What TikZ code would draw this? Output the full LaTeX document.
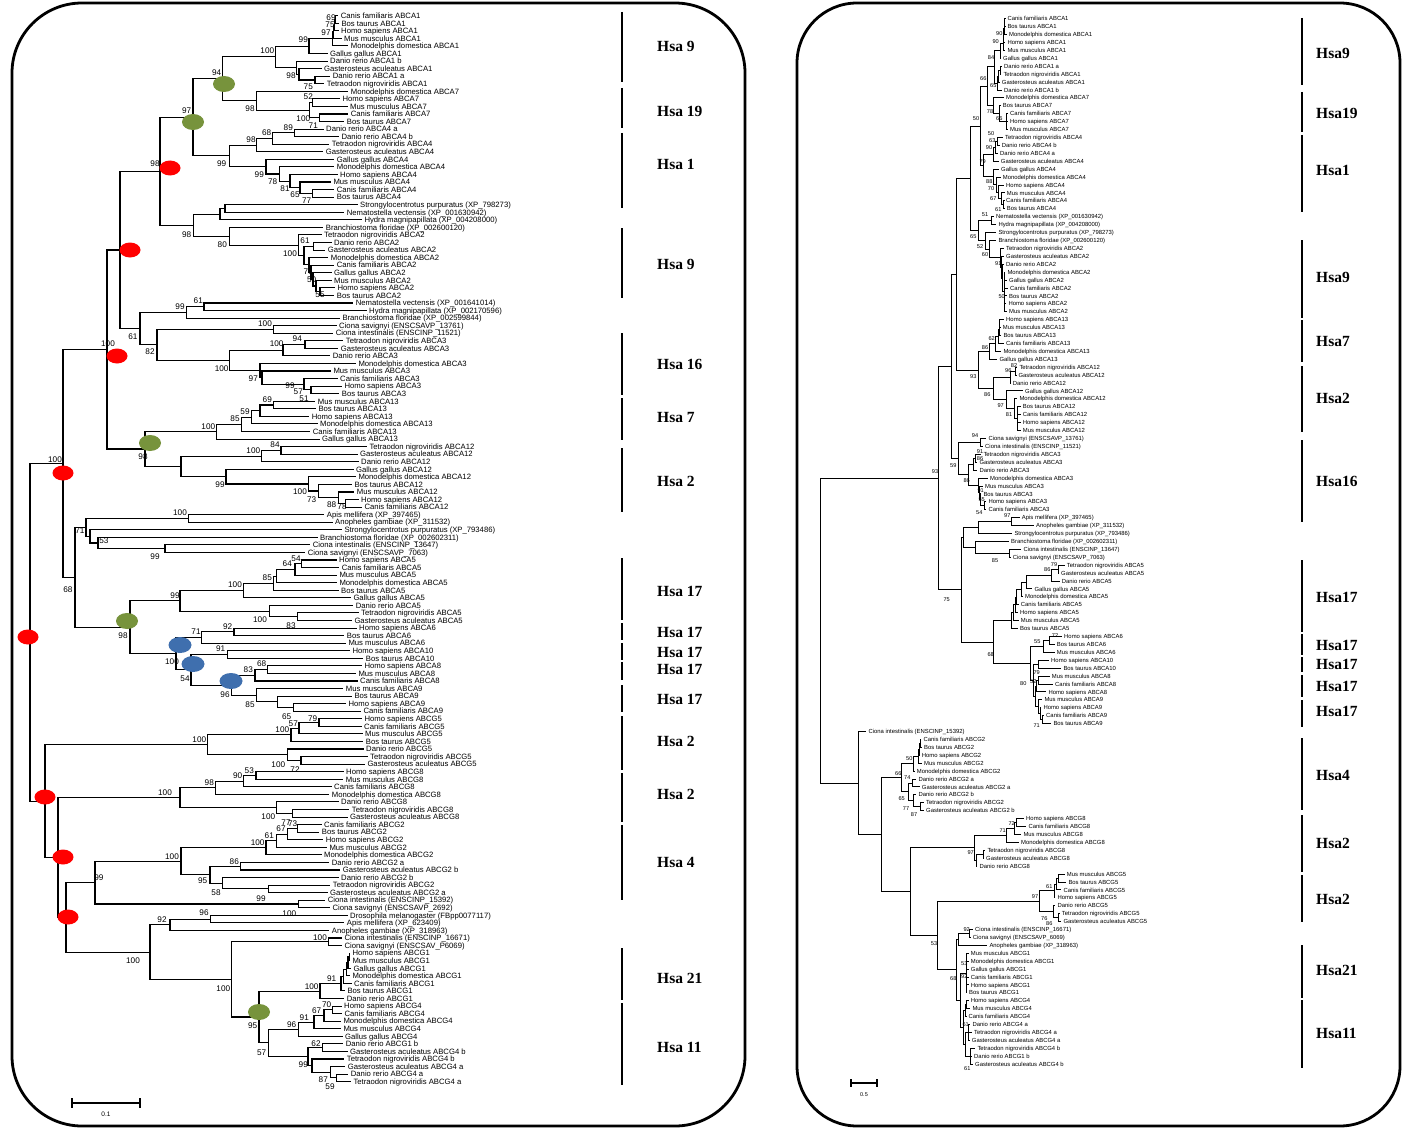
\documentclass[tikz,border=0pt]{standalone}
\usepackage{fontspec}
\setmainfont{Liberation Sans}
\newfontfamily\hsafont{Liberation Serif}
\usetikzlibrary{calc}
\newcommand\setY[2]{\expandafter\xdef\csname ny@#1\endcsname{#2}}
\newcommand\getY[1]{\csname ny@#1\endcsname}
\newcommand\lf[3]{%
  \pgfmathsetmacro\yy{15.7+7.56*(#1-1)}%
  \setY{L#1}{\yy}%
  \coordinate (L#1) at ({#2-2.5},\yy);
  \node[lbl] (tL#1) at (#2,\yy) {#3};}
\newcommand\rf[3]{%
  \pgfmathsetmacro\yy{18.7+7.92*(#1-1)}%
  \setY{R#1}{\yy}%
  \coordinate (R#1) at ({#2-2},\yy);
  \node[rlbl] (tR#1) at (#2,\yy) {#3};}
\newcommand\mn[5]{%
  \pgfmathsetmacro\yy{(\getY{#3}+\getY{#4})/2}%
  \setY{#1}{\yy}%
  \coordinate (#1) at (#2,\yy);
  \foreach \cc in {#5}{\draw[br] (#1) |- (\cc);}}
\newcommand\bn[4]{\mn{#1}{#2}{#3}{#4}{#3,#4}}
\newcounter{bsn}
\newcommand\bs[3]{\stepcounter{bsn}\node[bsl] (bs\arabic{bsn}) at (#1,#2) {#3};}
\newcounter{hn}
\newcommand\hsa[6]{\stepcounter{hn}\draw[hbar] (#1,#2) -- (#1,#3); \node[hsa] (hs\arabic{hn}) at (#4,#5) {#6};}
\definecolor{ovred}{HTML}{FF0000}
\definecolor{ovgreen}{HTML}{77933C}
\definecolor{ovblue}{HTML}{3F6FAE}
\begin{document}
\begin{tikzpicture}[x=1pt,y=-1pt,
  frame/.style={line width=2.8pt, line join=round},
  hbar/.style={line width=2.6pt},
  hsa/.style={font=\hsafont\bfseries\fontsize{15.5}{17}\selectfont, anchor=west, inner sep=0pt},
  scl/.style={line width=2pt}]
\useasboundingbox (0,0) rectangle (1403,1129);
\fill[white] (0,0) rectangle (1403,1129);
\draw[frame, rounded corners=70] (12,3) rectangle (745,1126);
\draw[frame, rounded corners=60] (797,3) rectangle (1400,1126);

% ================= LEFT TREE =================
\begin{scope}[br/.style={line width=1.1pt},
  lbl/.style={font=\fontsize{7.7}{8}\selectfont, anchor=west, inner sep=0pt, text height=5.5pt, text depth=0pt},
  bsl/.style={font=\fontsize{8.2}{9}\selectfont, inner sep=0pt}]
\lf{1}{340.7}{Canis familiaris ABCA1}
\lf{2}{341.3}{Bos taurus ABCA1}
\lf{3}{341}{Homo sapiens ABCA1}
\lf{4}{344}{Mus musculus ABCA1}
\lf{5}{350.7}{Monodelphis domestica ABCA1}
\lf{6}{330}{Gallus gallus ABCA1}
\lf{7}{330}{Danio rerio ABCA1 b}
\lf{8}{324}{Gasterosteus aculeatus ABCA1}
\lf{9}{332.7}{Danio rerio ABCA1 a}
\lf{10}{326.7}{Tetraodon nigroviridis ABCA1}
\lf{11}{350.7}{Monodelphis domestica ABCA7}
\lf{12}{342.3}{Homo sapiens ABCA7}
\lf{13}{350}{Mus musculus ABCA7}
\lf{14}{350.7}{Canis familiaris ABCA7}
\lf{15}{346.7}{Bos taurus ABCA7}
\lf{16}{326}{Danio rerio ABCA4 a}
\lf{17}{341.3}{Danio rerio ABCA4 b}
\lf{18}{331.7}{Tetraodon nigroviridis ABCA4}
\lf{19}{325.7}{Gasterosteus aculeatus ABCA4}
\lf{20}{336.7}{Gallus gallus ABCA4}
\lf{21}{336.7}{Monodelphis domestica ABCA4}
\lf{22}{340}{Homo sapiens ABCA4}
\lf{23}{333.3}{Mus musculus ABCA4}
\lf{24}{336.7}{Canis familiaris ABCA4}
\lf{25}{336.7}{Bos taurus ABCA4}
\lf{26}{360}{Strongylocentrotus purpuratus (XP\_798273)}
\lf{27}{346.7}{Nematostella vectensis (XP\_001630942)}
\lf{28}{364.3}{Hydra magnipapillata (XP\_004208000)}
\lf{29}{325.7}{Branchiostoma floridae (XP\_002600120)}
\lf{30}{324}{Tetraodon nigroviridis ABCA2}
\lf{31}{334}{Danio rerio ABCA2}
\lf{32}{327.7}{Gasterosteus aculeatus ABCA2}
\lf{33}{330.7}{Monodelphis domestica ABCA2}
\lf{34}{336.7}{Canis familiaris ABCA2}
\lf{35}{334}{Gallus gallus ABCA2}
\lf{36}{334}{Mus musculus ABCA2}
\lf{37}{337.3}{Homo sapiens ABCA2}
\lf{38}{336.7}{Bos taurus ABCA2}
\lf{39}{355.7}{Nematostella vectensis (XP\_001641014)}
\lf{40}{369}{Hydra magnipapillata (XP\_002170596)}
\lf{41}{342.3}{Branchiostoma floridae (XP\_002599844)}
\lf{42}{339}{Ciona savignyi (ENSCSAVP\_13761)}
\lf{43}{335.7}{Ciona intestinalis (ENSCINP\_11521)}
\lf{44}{345.7}{Tetraodon nigroviridis ABCA3}
\lf{45}{340.7}{Gasterosteus aculeatus ABCA3}
\lf{46}{332.7}{Danio rerio ABCA3}
\lf{47}{358.3}{Monodelphis domestica ABCA3}
\lf{48}{333.3}{Mus musculus ABCA3}
\lf{49}{340}{Canis familiaris ABCA3}
\lf{50}{344.3}{Homo sapiens ABCA3}
\lf{51}{341.7}{Bos taurus ABCA3}
\lf{52}{317.7}{Mus musculus ABCA13}
\lf{53}{318.3}{Bos taurus ABCA13}
\lf{54}{311.7}{Homo sapiens ABCA13}
\lf{55}{320}{Monodelphis domestica ABCA13}
\lf{56}{312.7}{Canis familiaris ABCA13}
\lf{57}{322}{Gallus gallus ABCA13}
\lf{58}{369.3}{Tetraodon nigroviridis ABCA12}
\lf{59}{360}{Gasterosteus aculeatus ABCA12}
\lf{60}{361}{Danio rerio ABCA12}
\lf{61}{356}{Gallus gallus ABCA12}
\lf{62}{358.3}{Monodelphis domestica ABCA12}
\lf{63}{354.3}{Bos taurus ABCA12}
\lf{64}{356.7}{Mus musculus ABCA12}
\lf{65}{361}{Homo sapiens ABCA12}
\lf{66}{364.3}{Canis familiaris ABCA12}
\lf{67}{326.7}{Apis mellifera (XP\_397465)}
\lf{68}{335}{Anopheles gambiae (XP\_311532)}
\lf{69}{344.3}{Strongylocentrotus purpuratus (XP\_793486)}
\lf{70}{320}{Branchiostoma floridae (XP\_002602311)}
\lf{71}{312.7}{Ciona intestinalis (ENSCINP\_13647)}
\lf{72}{307.7}{Ciona savignyi (ENSCSAVP\_7063)}
\lf{73}{339}{Homo sapiens ABCA5}
\lf{74}{341.7}{Canis familiaris ABCA5}
\lf{75}{339.3}{Mus musculus ABCA5}
\lf{76}{339.3}{Monodelphis domestica ABCA5}
\lf{77}{341}{Bos taurus ABCA5}
\lf{78}{353.3}{Gallus gallus ABCA5}
\lf{79}{355.7}{Danio rerio ABCA5}
\lf{80}{361}{Tetraodon nigroviridis ABCA5}
\lf{81}{354.3}{Gasterosteus aculeatus ABCA5}
\lf{82}{359}{Homo sapiens ABCA6}
\lf{83}{346.7}{Bos taurus ABCA6}
\lf{84}{348.3}{Mus musculus ABCA6}
\lf{85}{352.3}{Homo sapiens ABCA10}
\lf{86}{365.7}{Bos taurus ABCA10}
\lf{87}{364.3}{Homo sapiens ABCA8}
\lf{88}{358.3}{Mus musculus ABCA8}
\lf{89}{360}{Canis familiaris ABCA8}
\lf{90}{345.7}{Mus musculus ABCA9}
\lf{91}{354.3}{Bos taurus ABCA9}
\lf{92}{348.3}{Homo sapiens ABCA9}
\lf{93}{363.3}{Canis familiaris ABCA9}
\lf{94}{364.3}{Homo sapiens ABCG5}
\lf{95}{364}{Canis familiaris ABCG5}
\lf{96}{365}{Mus musculus ABCG5}
\lf{97}{365.7}{Bos taurus ABCG5}
\lf{98}{366}{Danio rerio ABCG5}
\lf{99}{370}{Tetraodon nigroviridis ABCG5}
\lf{100}{367.3}{Gasterosteus aculeatus ABCG5}
\lf{101}{346}{Homo sapiens ABCG8}
\lf{102}{345.7}{Mus musculus ABCG8}
\lf{103}{334}{Canis familiaris ABCG8}
\lf{104}{331.7}{Monodelphis domestica ABCG8}
\lf{105}{341}{Danio rerio ABCG8}
\lf{106}{351.7}{Tetraodon nigroviridis ABCG8}
\lf{107}{350}{Gasterosteus aculeatus ABCG8}
\lf{108}{324}{Canis familiaris ABCG2}
\lf{109}{321.7}{Bos taurus ABCG2}
\lf{110}{325.7}{Homo sapiens ABCG2}
\lf{111}{329.3}{Mus musculus ABCG2}
\lf{112}{324}{Monodelphis domestica ABCG2}
\lf{113}{331.7}{Danio rerio ABCG2 a}
\lf{114}{342.7}{Gasterosteus aculeatus ABCG2 b}
\lf{115}{341}{Danio rerio ABCG2 b}
\lf{116}{332.7}{Tetraodon nigroviridis ABCG2}
\lf{117}{330}{Gasterosteus aculeatus ABCG2 a}
\lf{118}{327.7}{Ciona intestinalis (ENSCINP\_15392)}
\lf{119}{332.3}{Ciona savignyi (ENSCSAVP\_2692)}
\lf{120}{350}{Drosophila melanogaster (FBpp0077117)}
\lf{121}{346.7}{Apis mellifera (XP\_623409)}
\lf{122}{331.7}{Anopheles gambiae (XP\_318963)}
\lf{123}{344.3}{Ciona intestinalis (ENSCINP\_16671)}
\lf{124}{344.3}{Ciona savignyi (ENSCSAV\_P6069)}
\lf{125}{352.3}{Homo sapiens ABCG1}
\lf{126}{352.3}{Mus musculus ABCG1}
\lf{127}{353.3}{Gallus gallus ABCG1}
\lf{128}{352.3}{Monodelphis domestica ABCG1}
\lf{129}{354}{Canis familiaris ABCG1}
\lf{130}{347.3}{Bos taurus ABCG1}
\lf{131}{346.7}{Danio rerio ABCG1}
\lf{132}{344}{Homo sapiens ABCG4}
\lf{133}{344.3}{Canis familiaris ABCG4}
\lf{134}{343.3}{Monodelphis domestica ABCG4}
\lf{135}{343.3}{Mus musculus ABCG4}
\lf{136}{345}{Gallus gallus ABCG4}
\lf{137}{345.7}{Danio rerio ABCG1 b}
\lf{138}{350}{Gasterosteus aculeatus ABCG4 b}
\lf{139}{346.7}{Tetraodon nigroviridis ABCG4 b}
\lf{140}{347.7}{Gasterosteus aculeatus ABCG4 a}
\lf{141}{350.7}{Danio rerio ABCG4 a}
\lf{142}{353.3}{Tetraodon nigroviridis ABCG4 a}
% internal nodes
\bn{a1}{335.5}{L1}{L2}
\bn{a2}{334.5}{a1}{L3}
\bn{a3}{333.5}{a2}{L4}
\bn{a4}{332.7}{a3}{L5}
\bn{a5}{309}{a4}{L6}
\bn{a6}{315}{L9}{L10}
\bn{a7}{299}{L8}{a6}
\bn{a8}{296.7}{L7}{a7}
\bn{a9}{275.7}{a5}{a8}
\bn{b1}{312.3}{L12}{L13}
\bn{b2}{319.3}{L14}{L15}
\bn{b3}{309.3}{b1}{b2}
\bn{b4}{256.3}{L11}{b3}
\bn{c94}{222.7}{a9}{b4}
\bn{d1}{294.3}{L16}{L17}
\bn{d2}{272.7}{d1}{L18}
\bn{d3}{256.7}{d2}{L19}
\bn{e1}{312.7}{L24}{L25}
\bn{e2}{300}{L23}{e1}
\bn{e3}{290}{L22}{e2}
\bn{e4}{279.3}{L21}{e3}
\bn{e5}{266}{L20}{e4}
\bn{d4}{229.3}{d3}{e5}
\bn{c97}{193}{c94}{d4}
\bn{f1}{225}{L26}{L27}
\bn{f2}{220}{f1}{L28}
\bn{g1}{313.3}{L31}{L32}
\bn{h1}{320}{L37}{L38}
\bn{h2}{316}{L36}{h1}
\bn{h3}{313}{L35}{h2}
\bn{h4}{311}{L34}{h3}
\bn{h5}{309}{L33}{h4}
\bn{g2}{304}{g1}{h5}
\bn{g3}{298.3}{L30}{g2}
\bn{f4}{229.3}{L29}{g3}
\bn{f3}{193.3}{f2}{f4}
\bn{c98}{160}{c97}{f3}
\bn{i1}{204}{L39}{L40}
\bn{i2}{186.7}{i1}{L41}
\bn{i3}{273.3}{L42}{L43}
\bn{j1}{305}{L44}{L45}
\bn{j2}{283}{j1}{L46}
\bn{k1}{311}{L50}{L51}
\bn{k2}{304}{L49}{k1}
\bn{k3}{262}{L48}{k2}
\bn{k4}{260}{L47}{k3}
\bn{j3}{229.3}{j2}{k4}
\bn{l1}{157}{i3}{j3}
\bn{l2}{140}{i2}{l1}
\bn{m1}{120}{c98}{l2}
\bn{o1}{273.3}{L52}{L53}
\bn{o2}{260}{o1}{L54}
\bn{o3}{251.7}{o2}{L55}
\bn{o4}{241.7}{o3}{L56}
\bn{o5}{216.7}{o4}{L57}
\bn{p1}{281}{L58}{L59}
\bn{p2}{261.7}{p1}{L60}
\bn{q1}{345.7}{L65}{L66}
\bn{q2}{338.3}{L64}{q1}
\bn{q3}{318.3}{L63}{q2}
\bn{q4}{308.3}{L62}{q3}
\bn{q5}{226}{L61}{q4}
\bn{p3}{181}{p2}{q5}
\bn{r1}{145}{o5}{p3}
\bn{m2}{107}{m1}{r1}
\bn{s1}{188.3}{L67}{L68}
\bn{t1}{165}{L71}{L72}
\bn{t2}{98}{L70}{t1}
\bn{t3}{90}{L69}{t2}
\bn{t4}{86}{s1}{t3}
\bn{v1}{301.7}{L73}{L74}
\bn{v2}{295}{v1}{L75}
\bn{v3}{276.7}{v2}{L76}
\bn{v4}{273.3}{v3}{L77}
\bn{v5}{243.3}{v4}{L78}
\bn{v6}{297.3}{L80}{L81}
\bn{v7}{269.3}{L79}{v6}
\bn{v8}{180}{v5}{v7}
\bn{w1}{234}{L82}{L83}
\bn{w2}{201.7}{w1}{L84}
\bn{w3}{227.3}{L85}{L86}
\bn{w5}{267.7}{L87}{L88}
\bn{w6}{255}{w5}{L89}
\bn{x1}{293.3}{L92}{L93}
\bn{x2}{277.7}{L91}{x1}
\bn{x3}{256.7}{L90}{x2}
\bn{x4}{231.7}{w6}{x3}
\bn{y1}{191}{w3}{x4}
\bn{y2}{176}{w2}{y1}
\bn{z1}{130}{v8}{y2}
\bn{u1}{75}{t4}{z1}
\bn{N100}{63}{m2}{u1}
\bn{G1}{319}{L94}{L95}
\bn{G2}{299}{G1}{L96}
\bn{G3}{291}{G2}{L97}
\bn{G4}{301}{L99}{L100}
\bn{G5}{287.3}{L98}{G4}
\bn{G6}{207.7}{G3}{G5}
\bn{G7}{256}{L101}{L102}
\bn{G8}{243.3}{G7}{L103}
\bn{G9}{215.7}{G8}{L104}
\bn{G10}{292.7}{L106}{L107}
\bn{G11}{276.7}{L105}{G10}
\bn{G12}{180}{G9}{G11}
\bn{H3}{297.7}{L108}{L109}
\bn{H4}{287.3}{H3}{L110}
\bn{H5}{276.7}{H4}{L111}
\bn{H6}{266}{H5}{L112}
\bn{H7}{240.7}{L113}{L114}
\bn{H8}{268.3}{L116}{L117}
\bn{H9}{222.3}{L115}{H8}
\bn{H10}{210}{H7}{H9}
\bn{H11}{181}{H6}{H10}
\bn{H12}{298.3}{L118}{L119}
\bn{H13}{95}{H11}{H12}
\bn{H14}{210.7}{L120}{L121}
\bn{H15}{170}{H14}{L122}
\bn{I1}{328.3}{L123}{L124}
\bn{I3a}{349.3}{L125}{L126}
\bn{I3b}{348}{I3a}{L127}
\bn{I3c}{346.5}{I3b}{L128}
\bn{I3d}{343.5}{I3c}{L129}
\bn{I3e}{341}{I3d}{L130}
\bn{I3f}{320}{I3e}{L131}
\bn{I4a}{332.7}{L132}{L133}
\bn{I4b}{324}{I4a}{L134}
\bn{I4c}{314}{I4b}{L135}
\bn{I4d}{298.3}{I4c}{L136}
\bn{I5a}{322.7}{L137}{L138}
\bn{I5c}{336.7}{L141}{L142}
\bn{I5d}{330.7}{L140}{I5c}
\bn{I5e}{312}{L139}{I5d}
\bn{I5f}{308}{I5a}{I5e}
\bn{I6}{268.3}{I4d}{I5f}
\bn{I7}{259}{I3f}{I6}
\bn{I2}{231.7}{I1}{I7}
\bn{J1}{150}{H15}{I2}
\bn{H2}{66}{H13}{J1}
\bn{H1}{58}{G12}{H2}
\bn{Groot}{45}{G6}{H1}
\bn{Root}{30}{N100}{Groot}
% bootstrap values
\bs{331}{17.7}{69}\bs{330}{24.3}{75}\bs{326}{32.3}{97}\bs{303.3}{39.3}{99}
\bs{267.3}{50.7}{100}\bs{216.7}{72.7}{94}\bs{291}{76}{98}\bs{186.7}{111}{97}
\bs{308.3}{87}{75}\bs{308.3}{97}{52}\bs{250}{109}{98}\bs{303.3}{118.3}{100}
\bs{288.3}{127.7}{89}\bs{313.3}{125.7}{71}\bs{266.7}{132.3}{68}\bs{251}{139.3}{98}
\bs{221.7}{163.7}{99}\bs{259.3}{175}{99}\bs{272.7}{181.3}{78}\bs{285}{188.3}{81}
\bs{295}{195}{65}\bs{306.7}{201}{77}\bs{155}{164}{98}\bs{186.7}{234.3}{98}
\bs{222.3}{244.3}{80}\bs{305}{241}{61}\bs{290}{253.3}{100}\bs{308.3}{271.7}{71}
\bs{311.7}{279.3}{50}\bs{320}{294.3}{55}\bs{198.3}{300.7}{61}\bs{180}{307}{99}
\bs{265}{324}{100}\bs{297.3}{339}{94}\bs{276.7}{344}{100}\bs{133}{337}{61}
\bs{150}{352}{82}\bs{108}{344}{100}\bs{221.7}{369}{100}\bs{253.3}{379}{97}
\bs{290}{386}{99}\bs{298.3}{392}{57}\bs{304}{398.3}{51}\bs{267.3}{399.3}{69}
\bs{245}{411.7}{59}\bs{235}{418.3}{85}\bs{208.3}{426.7}{100}\bs{275}{444.3}{84}
\bs{253.3}{451}{100}\bs{143}{457}{98}\bs{55}{460}{100}\bs{220}{485}{99}
\bs{300}{491.7}{100}\bs{311.7}{499.3}{73}\bs{331.7}{504.5}{88}\bs{342}{507}{78}
\bs{180}{513}{100}\bs{80}{531}{71}\bs{104}{541}{53}\bs{155}{557}{99}
\bs{296}{558.3}{54}\bs{287.3}{563.3}{64}\bs{267.3}{577.7}{85}\bs{235}{585}{100}
\bs{68}{590}{68}\bs{175}{596}{99}\bs{260}{619.3}{100}\bs{227.7}{626.7}{92}
\bs{291}{626}{83}\bs{196}{631.7}{71}\bs{123}{636}{98}\bs{220.7}{649}{91}
\bs{261.7}{664}{68}\bs{172}{662}{100}\bs{248.3}{670}{83}\bs{185}{678.3}{54}
\bs{225}{694.3}{96}\bs{250}{704.3}{85}\bs{286.7}{716.7}{65}\bs{312.7}{718.3}{79}
\bs{293.3}{723.3}{57}\bs{282.3}{730}{100}\bs{199.3}{740}{100}\bs{278.3}{764.3}{100}
\bs{295}{770}{72}\bs{249.3}{770.7}{53}\bs{237.7}{776}{90}\bs{209.3}{782.7}{98}
\bs{165}{793}{100}\bs{268.3}{816.7}{100}\bs{286}{822.3}{77}\bs{292.7}{823.3}{73}
\bs{281}{829}{67}\bs{269.3}{836}{61}\bs{257.7}{842.3}{100}\bs{172}{857}{100}
\bs{234.3}{861.7}{86}\bs{99}{878}{99}\bs{202.7}{881}{95}\bs{216}{892.7}{58}
\bs{261}{898.3}{99}\bs{289.3}{913.3}{100}\bs{204}{912.3}{96}\bs{162}{920}{92}
\bs{320}{937.3}{100}\bs{133}{961}{100}\bs{223.3}{988.3}{100}\bs{331.7}{979}{91}
\bs{311.7}{986.7}{100}\bs{316.7}{1010.7}{67}\bs{326.7}{1005}{70}\bs{304.3}{1017.3}{91}
\bs{252.7}{1025.7}{95}\bs{291.7}{1025}{96}\bs{316}{1043.3}{62}\bs{261.7}{1052.7}{57}
\bs{303.3}{1065}{99}\bs{323.3}{1080}{87}\bs{330}{1086.7}{59}
\end{scope}
% ovals on the left tree
\foreach \px/\py in {170/168,130/250,117/356,63/473,28/637,45/797,63/857,68/917}
  \fill[ovred] (\px,\py) ellipse [x radius=10.5, y radius=7.5];
\foreach \px/\py in {224/84,193/122,150/443,127/621,259/1012}
  \fill[ovgreen] (\px,\py) ellipse [x radius=11, y radius=8];
\foreach \px/\py in {180/645,193/664,231/681}
  \fill[ovblue] (\px,\py) ellipse [x radius=11.5, y radius=8];
% left scale bar
\draw[scl] (72,1098) -- (72,1108) (72,1103) -- (140,1103) (140,1098) -- (140,1108);
\node[font=\fontsize{6.5}{7}\selectfont, inner sep=0pt] (sc1) at (106,1114) {0.1};
% left Hsa bars
\hsa{622}{12}{82}{657}{46}{Hsa 9}
\hsa{622}{88}{128}{657}{111}{Hsa 19}
\hsa{622}{133}{208}{657}{164}{Hsa 1}
\hsa{622}{228}{298}{657}{264}{Hsa 9}
\hsa{622}{333}{395}{657}{364}{Hsa 16}
\hsa{622}{398}{440}{657}{417}{Hsa 7}
\hsa{622}{448}{512}{657}{481}{Hsa 2}
\hsa{622}{558}{620}{657}{591}{Hsa 17}
\hsa{622}{623}{640}{657}{632}{Hsa 17}
\hsa{622}{643}{660}{657}{652}{Hsa 17}
\hsa{622}{662}{680}{657}{669}{Hsa 17}
\hsa{622}{685}{712}{657}{699}{Hsa 17}
\hsa{622}{716}{770}{657}{741}{Hsa 2}
\hsa{622}{773}{822}{657}{794}{Hsa 2}
\hsa{622}{825}{900}{657}{862}{Hsa 4}
\hsa{622}{948}{1000}{657}{978}{Hsa 21}
\hsa{622}{1003}{1085}{657}{1047}{Hsa 11}

% ================= RIGHT TREE =================
\begin{scope}[br/.style={line width=0.9pt},
  rlbl/.style={font=\fontsize{5.9}{6}\selectfont, anchor=west, inner sep=0pt, text height=4.2pt, text depth=0pt},
  bsl/.style={font=\fontsize{5.6}{6}\selectfont, inner sep=0pt}]
\rf{1}{1007.3}{Canis familiaris ABCA1}
\rf{2}{1007.3}{Bos taurus ABCA1}
\rf{3}{1009}{Monodelphis domestica ABCA1}
\rf{4}{1007.3}{Homo sapiens ABCA1}
\rf{5}{1007.3}{Mus musculus ABCA1}
\rf{6}{1003}{Gallus gallus ABCA1}
\rf{7}{1004}{Danio rerio ABCA1 a}
\rf{8}{1003.3}{Tetraodon nigroviridis ABCA1}
\rf{9}{1001.7}{Gasterosteus aculeatus ABCA1}
\rf{10}{1004}{Danio rerio ABCA1 b}
\rf{11}{1006}{Monodelphis domestica ABCA7}
\rf{12}{1002.7}{Bos taurus ABCA7}
\rf{13}{1010}{Canis familiaris ABCA7}
\rf{14}{1010}{Homo sapiens ABCA7}
\rf{15}{1010}{Mus musculus ABCA7}
\rf{16}{1005}{Tetraodon nigroviridis ABCA4}
\rf{17}{1001.7}{Danio rerio ABCA4 b}
\rf{18}{1000}{Danio rerio ABCA4 a}
\rf{19}{1000.7}{Gasterosteus aculeatus ABCA4}
\rf{20}{1001}{Gallus gallus ABCA4}
\rf{21}{1002.7}{Monodelphis domestica ABCA4}
\rf{22}{1006}{Homo sapiens ABCA4}
\rf{23}{1006.7}{Mus musculus ABCA4}
\rf{24}{1006}{Canis familiaris ABCA4}
\rf{25}{1006.7}{Bos taurus ABCA4}
\rf{26}{996}{Nematostella vectensis (XP\_001630942)}
\rf{27}{998.3}{Hydra magnipapillata (XP\_004208000)}
\rf{28}{998.3}{Strongylocentrotus purpuratus (XP\_798273)}
\rf{29}{998.3}{Branchiostoma floridae (XP\_002600120)}
\rf{30}{1006}{Tetraodon nigroviridis ABCA2}
\rf{31}{1006}{Gasterosteus aculeatus ABCA2}
\rf{32}{1006}{Danio rerio ABCA2}
\rf{33}{1007.3}{Monodelphis domestica ABCA2}
\rf{34}{1009}{Gallus gallus ABCA2}
\rf{35}{1010}{Canis familiaris ABCA2}
\rf{36}{1009}{Bos taurus ABCA2}
\rf{37}{1008.3}{Homo sapiens ABCA2}
\rf{38}{1009}{Mus musculus ABCA2}
\rf{39}{1006}{Homo sapiens ABCA13}
\rf{40}{1002.7}{Mus musculus ABCA13}
\rf{41}{1003.3}{Bos taurus ABCA13}
\rf{42}{1006}{Canis familiaris ABCA13}
\rf{43}{1003.3}{Monodelphis domestica ABCA13}
\rf{44}{999.3}{Gallus gallus ABCA13}
\rf{45}{1019.3}{Tetraodon nigroviridis ABCA12}
\rf{46}{1018.3}{Gasterosteus aculeatus ABCA12}
\rf{47}{1012.7}{Danio rerio ABCA12}
\rf{48}{1025}{Gallus gallus ABCA12}
\rf{49}{1019.3}{Monodelphis domestica ABCA12}
\rf{50}{1022.7}{Bos taurus ABCA12}
\rf{51}{1022.7}{Canis familiaris ABCA12}
\rf{52}{1022.7}{Homo sapiens ABCA12}
\rf{53}{1022.7}{Mus musculus ABCA12}
\rf{54}{988.3}{Ciona savignyi (ENSCSAVP\_13761)}
\rf{55}{985}{Ciona intestinalis (ENSCINP\_11521)}
\rf{56}{983.3}{Tetraodon nigroviridis ABCA3}
\rf{57}{979.3}{Gasterosteus aculeatus ABCA3}
\rf{58}{979.3}{Danio rerio ABCA3}
\rf{59}{990}{Monodelphis domestica ABCA3}
\rf{60}{985}{Mus musculus ABCA3}
\rf{61}{983.3}{Bos taurus ABCA3}
\rf{62}{988.3}{Homo sapiens ABCA3}
\rf{63}{988.3}{Canis familiaris ABCA3}
\rf{64}{1021.7}{Apis mellifera (XP\_397465)}
\rf{65}{1036}{Anopheles gambiae (XP\_311532)}
\rf{66}{1014.3}{Strongylocentrotus purpuratus (XP\_793486)}
\rf{67}{1011}{Branchiostoma floridae (XP\_002602311)}
\rf{68}{1023.3}{Ciona intestinalis (ENSCINP\_13647)}
\rf{69}{1012.7}{Ciona savignyi (ENSCSAVP\_7063)}
\rf{70}{1066.7}{Tetraodon nigroviridis ABCA5}
\rf{71}{1061}{Gasterosteus aculeatus ABCA5}
\rf{72}{1061.7}{Danio rerio ABCA5}
\rf{73}{1034.3}{Gallus gallus ABCA5}
\rf{74}{1025}{Monodelphis domestica ABCA5}
\rf{75}{1020.7}{Canis familiaris ABCA5}
\rf{76}{1020}{Homo sapiens ABCA5}
\rf{77}{1020.7}{Mus musculus ABCA5}
\rf{78}{1020}{Bos taurus ABCA5}
\rf{79}{1064}{Homo sapiens ABCA6}
\rf{80}{1056.7}{Bos taurus ABCA6}
\rf{81}{1056.7}{Mus musculus ABCA6}
\rf{82}{1051}{Homo sapiens ABCA10}
\rf{83}{1063.3}{Bos taurus ABCA10}
\rf{84}{1051.7}{Mus musculus ABCA8}
\rf{85}{1055}{Canis familiaris ABCA8}
\rf{86}{1048.3}{Homo sapiens ABCA8}
\rf{87}{1044.3}{Mus musculus ABCA9}
\rf{88}{1043.3}{Homo sapiens ABCA9}
\rf{89}{1046}{Canis familiaris ABCA9}
\rf{90}{1053.3}{Bos taurus ABCA9}
\rf{91}{868.3}{Ciona intestinalis (ENSCINP\_15392)}
\rf{92}{923.3}{Canis familiaris ABCG2}
\rf{93}{924}{Bos taurus ABCG2}
\rf{94}{921.7}{Homo sapiens ABCG2}
\rf{95}{924}{Mus musculus ABCG2}
\rf{96}{916.7}{Monodelphis domestica ABCG2}
\rf{97}{918.3}{Danio rerio ABCG2 a}
\rf{98}{921.7}{Gasterosteus aculeatus ABCG2 a}
\rf{99}{918.3}{Danio rerio ABCG2 b}
\rf{100}{926}{Tetraodon nigroviridis ABCG2}
\rf{101}{926}{Gasterosteus aculeatus ABCG2 b}
\rf{102}{1026}{Homo sapiens ABCG8}
\rf{103}{1028.3}{Canis familiaris ABCG8}
\rf{104}{1023.3}{Mus musculus ABCG8}
\rf{105}{1021}{Monodelphis domestica ABCG8}
\rf{106}{987.3}{Tetraodon nigroviridis ABCG8}
\rf{107}{986}{Gasterosteus aculeatus ABCG8}
\rf{108}{979.3}{Danio rerio ABCG8}
\rf{109}{1066.7}{Mus musculus ABCG5}
\rf{110}{1068.3}{Bos taurus ABCG5}
\rf{111}{1063.3}{Canis familiaris ABCG5}
\rf{112}{1057.3}{Homo sapiens ABCG5}
\rf{113}{1057.3}{Danio rerio ABCG5}
\rf{114}{1061.7}{Tetraodon nigroviridis ABCG5}
\rf{115}{1063.3}{Gasterosteus aculeatus ABCG5}
\rf{116}{975}{Ciona intestinalis (ENSCINP\_16671)}
\rf{117}{972.7}{Ciona savignyi (ENSCSAVP\_6069)}
\rf{118}{989.3}{Anopheles gambiae (XP\_318963)}
\rf{119}{970.7}{Mus musculus ABCG1}
\rf{120}{970.7}{Monodelphis domestica ABCG1}
\rf{121}{970.7}{Gallus gallus ABCG1}
\rf{122}{970.7}{Canis familiaris ABCG1}
\rf{123}{970.7}{Homo sapiens ABCG1}
\rf{124}{969}{Bos taurus ABCG1}
\rf{125}{970.7}{Homo sapiens ABCG4}
\rf{126}{972.3}{Mus musculus ABCG4}
\rf{127}{968.3}{Canis familiaris ABCG4}
\rf{128}{972.3}{Danio rerio ABCG4 a}
\rf{129}{974}{Tetraodon nigroviridis ABCG4 a}
\rf{130}{971.7}{Gasterosteus aculeatus ABCG4 a}
\rf{131}{977.3}{Tetraodon nigroviridis ABCG4 b}
\rf{132}{974}{Danio rerio ABCG1 b}
\rf{133}{975}{Gasterosteus aculeatus ABCG4 b}
% internal nodes
\bn{RA1}{1004.5}{R1}{R2}
\bn{RA2}{1004}{RA1}{R3}
\bn{RA3}{1003.5}{RA2}{R4}
\bn{RA4}{1003}{RA3}{R5}
\bn{RA5}{1000}{RA4}{R6}
\bn{RB1}{1000}{R7}{R8}
\bn{RB2}{998.5}{RB1}{R9}
\bn{RB3}{997.5}{RB2}{R10}
\bn{RB4}{994}{RA5}{RB3}
\mn{RC1}{1006}{R13}{R15}{R13,R14,R15}
\bn{RC2}{999.5}{R12}{RC1}
\bn{RC3}{993.5}{R11}{RC2}
\bn{RC4}{987}{RB4}{RC3}
\bn{RD1}{997}{R16}{R17}
\bn{RD2}{995.5}{RD1}{R18}
\bn{RD3}{993.5}{RD2}{R19}
\bn{RE1}{1003.5}{R24}{R25}
\bn{RE2}{1001.5}{R23}{RE1}
\bn{RE3}{998.5}{R22}{RE2}
\bn{RE4}{996}{R21}{RE3}
\bn{RE5}{993}{R20}{RE4}
\bn{RD4}{983}{RD3}{RE5}
\bn{RC5}{980}{RC4}{RD4}
\bn{RF1}{991.7}{R26}{R27}
\mn{RG1}{1004}{R33}{R38}{R33,R34,R35,R36,R37,R38}
\bn{RG2}{1002}{R32}{RG1}
\bn{RG3}{1001}{R31}{RG2}
\bn{RG4}{1000}{R30}{RG3}
\bn{RF3}{989}{R29}{RG4}
\bn{RF2}{985}{R28}{RF3}
\bn{RF4}{978.3}{RF1}{RF2}
\bn{RH1}{970}{RC5}{RF4}
\bn{RI1}{999.8}{R39}{R40}
\bn{RI2}{999}{RI1}{R41}
\bn{RI3}{998}{RI2}{R42}
\bn{RI4}{995.5}{RI3}{R43}
\bn{RI5}{989.3}{RI4}{R44}
\bn{RK1}{1015.5}{R45}{R46}
\bn{RK2}{1010}{RK1}{R47}
\mn{RL2}{1017.5}{R50}{R53}{R50,R51,R52,R53}
\bn{RL3}{1014}{R49}{RL2}
\bn{RL4}{1006.7}{R48}{RL3}
\bn{RK3}{993}{RK2}{RL4}
\bn{RJ1}{978.3}{RI5}{RK3}
\bn{RM1}{956.7}{RH1}{RJ1}
\bn{RO1}{980}{R54}{R55}
\bn{RO2}{975.5}{R56}{R57}
\bn{RO3}{973.3}{RO2}{R58}
\bn{RP1}{984.5}{R62}{R63}
\bn{RP2}{980}{R61}{RP1}
\bn{RP3}{979.5}{R60}{RP2}
\bn{RP4}{978.5}{R59}{RP3}
\bn{RQ1}{968}{RO3}{RP4}
\bn{RQ2}{958.3}{RO1}{RQ1}
\bn{RN1}{951.7}{RM1}{RQ2}
\bn{RR1}{1011.7}{R64}{R65}
\bn{RR2}{978.3}{RR1}{R66}
\bn{RS1}{1009}{R68}{R69}
\bn{RS2}{975.7}{R67}{RS1}
\bn{RS3}{963.3}{RR2}{RS2}
\bn{RT1}{1058.3}{R70}{R71}
\bn{RT2}{1051.7}{RT1}{R72}
\bn{RT3}{1026.7}{RT2}{R73}
\bn{RT4}{1021.7}{RT3}{R74}
\bn{RT5}{1016.7}{RT4}{R75}
\bn{RT6}{1015}{RT5}{R76}
\bn{RT7}{1013.3}{RT6}{R77}
\bn{RT8}{1011.7}{RT7}{R78}
\bn{RU1}{1049}{R79}{R80}
\bn{RU2}{1043.3}{RU1}{R81}
\bn{RU3}{1038.3}{R82}{R83}
\bn{RU4}{1038.3}{R84}{R85}
\bn{RU5}{1036.7}{RU4}{R86}
\bn{RU6}{1042}{R89}{R90}
\bn{RU7}{1040}{R88}{RU6}
\bn{RU8}{1038}{R87}{RU7}
\bn{RU9}{1035}{RU5}{RU8}
\bn{RU10}{1033}{RU3}{RU9}
\bn{RU11}{1030}{RU2}{RU10}
\bn{RU12}{993.3}{RT8}{RU11}
\bn{RV1}{961.7}{RS3}{RU12}
\bn{RQ3}{938.3}{RN1}{RV1}
\bn{RX1}{920}{R92}{R93}
\bn{RX2}{919}{RX1}{R94}
\bn{RX3}{918}{RX2}{R95}
\bn{RX4}{913.3}{RX3}{R96}
\bn{RX5}{912}{R97}{R98}
\bn{RX6}{920}{R100}{R101}
\bn{RX7}{913}{R99}{RX6}
\bn{RX8}{908}{RX5}{RX7}
\bn{RX9}{901.7}{RX4}{RX8}
\bn{S1}{1016.7}{R102}{R103}
\bn{S2}{1014}{S1}{R104}
\bn{S3}{1006.7}{S2}{R105}
\bn{S4}{983}{R106}{R107}
\bn{S5}{976}{S4}{R108}
\bn{S6}{974}{S3}{S5}
\bn{S9}{1058}{R109}{R110}
\bn{S10}{1056}{S9}{R111}
\bn{S11}{1054}{S10}{R112}
\bn{S12}{1058}{R114}{R115}
\bn{S13}{1053}{R113}{S12}
\bn{S14}{1039.3}{S11}{S13}
\bn{T1}{969.5}{R116}{R117}
\bn{T2}{958.3}{T1}{R118}
\mn{T3}{966}{R119}{R124}{R119,R120,R121,R122,R123,R124}
\bn{T4a}{966.5}{R125}{R126}
\bn{T4b}{965.5}{T4a}{R127}
\mn{T4c}{968}{R128}{R130}{R128,R129,R130}
\mn{T4d}{970.7}{R131}{R133}{R131,R132,R133}
\bn{T4e}{965}{T4c}{T4d}
\bn{T4f}{963.5}{T4b}{T4e}
\bn{T5}{960}{T3}{T4f}
\bn{T6}{956.7}{T2}{T5}
\bn{S15}{937.3}{S14}{T6}
\bn{S7}{910}{S6}{S15}
\bn{RY1}{881.7}{RX9}{S7}
\bn{RW1}{858.3}{R91}{RY1}
\bn{RZ}{820}{RQ3}{RW1}
% bootstrap values
\bs{999.3}{34}{90}\bs{995.7}{41.3}{90}\bs{991}{57.3}{84}\bs{983.3}{78.7}{66}
\bs{993.3}{85.3}{65}\bs{976}{119}{50}\bs{990}{112}{78}\bs{999.3}{119}{66}
\bs{991}{134}{50}\bs{992.3}{140.3}{63}\bs{989}{148}{90}\bs{982.7}{161.3}{79}
\bs{989.3}{181.3}{88}\bs{991}{189}{70}\bs{993.3}{198.3}{67}\bs{998.3}{210}{61}
\bs{985}{215}{51}\bs{973.3}{236.7}{65}\bs{980}{246.7}{52}\bs{985}{255}{60}
\bs{998.3}{263.3}{91}\bs{1001.7}{296.7}{50}\bs{991.7}{339}{62}\bs{985}{347.3}{86}
\bs{1014}{365.3}{82}\bs{1008.3}{370.3}{96}\bs{973.3}{377}{93}\bs{987.3}{394.3}{86}
\bs{1000.7}{405.3}{97}\bs{1009}{414.3}{81}\bs{975}{436}{94}\bs{980}{451.3}{91}
\bs{980}{458.7}{86}\bs{953.3}{466}{59}\bs{935}{472}{93}\bs{966.7}{481}{86}
\bs{980.7}{491}{91}\bs{981.7}{499.3}{55}\bs{979.3}{513}{54}\bs{1007.3}{516}{97}
\bs{995}{560.7}{85}\bs{1054}{564.3}{79}\bs{1047.3}{570}{86}\bs{946.7}{600}{75}
\bs{1055}{635.7}{72}\bs{1037.3}{641.7}{55}\bs{990.7}{654.3}{68}\bs{1036.7}{672.3}{79}
\bs{1023.3}{683.3}{80}\bs{1033.3}{681.7}{52}\bs{1036.7}{725.7}{71}\bs{909.3}{758.3}{50}
\bs{898.3}{773.3}{66}\bs{907.3}{777.7}{74}\bs{901.7}{799}{65}\bs{906}{809}{77}
\bs{914}{814.3}{87}\bs{1011.7}{824}{72}\bs{1002.7}{831}{71}\bs{970.7}{852.7}{97}
\bs{1049.3}{886.7}{61}\bs{1035}{896.7}{97}\bs{1044.3}{918.3}{76}\bs{1049.3}{924}{86}
\bs{966.7}{929.3}{92}\bs{934}{943.3}{53}\bs{964.3}{964}{53}\bs{964.3}{976.7}{92}
\bs{953.3}{979}{68}\bs{965.7}{1025}{61}\bs{967.3}{1068.3}{61}
\end{scope}
% right scale bar
\draw[line width=1.6pt] (851,1079) -- (851,1087) (851,1083) -- (877,1083) (877,1079) -- (877,1087);
\node[font=\fontsize{5.5}{6}\selectfont, inner sep=0pt] (sc2) at (864,1095) {0.5};
% right Hsa bars
\hsa{1302}{18}{85}{1316}{53}{Hsa9}
\hsa{1302}{92}{132}{1316}{113}{Hsa19}
\hsa{1302}{135}{212}{1316}{170}{Hsa1}
\hsa{1302}{240}{318}{1316}{277}{Hsa9}
\hsa{1302}{320}{362}{1316}{341}{Hsa7}
\hsa{1302}{366}{432}{1316}{398}{Hsa2}
\hsa{1302}{440}{522}{1316}{481}{Hsa16}
\hsa{1302}{560}{632}{1316}{597}{Hsa17}
\hsa{1302}{634}{655}{1316}{645}{Hsa17}
\hsa{1302}{657}{672}{1316}{664}{Hsa17}
\hsa{1302}{675}{697}{1316}{686}{Hsa17}
\hsa{1302}{700}{727}{1316}{711}{Hsa17}
\hsa{1302}{738}{810}{1316}{775}{Hsa4}
\hsa{1302}{815}{872}{1316}{843}{Hsa2}
\hsa{1302}{875}{922}{1316}{899}{Hsa2}
\hsa{1302}{945}{998}{1316}{970}{Hsa21}
\hsa{1302}{1000}{1068}{1316}{1033}{Hsa11}
\end{tikzpicture}
\end{document}
